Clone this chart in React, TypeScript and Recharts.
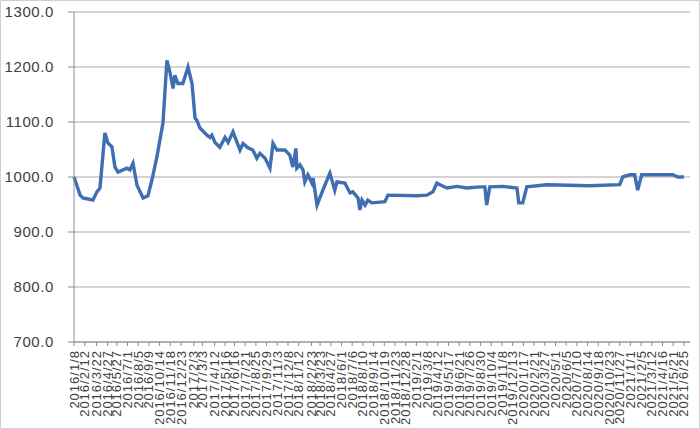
import { LineChart, Line, XAxis, YAxis, CartesianGrid } from "recharts";

const dates = [
  "2016/1/8", "2016/1/28", "2016/2/6", "2016/2/23", "2016/3/10", "2016/3/23", "2016/4/2", "2016/4/18",
  "2016/4/28", "2016/5/11", "2016/5/21", "2016/5/31", "2016/6/29", "2016/7/9", "2016/7/19", "2016/8/1",
  "2016/8/21", "2016/9/6", "2016/9/19", "2016/10/5", "2016/10/25", "2016/11/7", "2016/11/17", "2016/11/27",
  "2016/12/3", "2016/12/13", "2016/12/29", "2017/1/15", "2017/1/28", "2017/2/7", "2017/2/13", "2017/2/23",
  "2017/3/18", "2017/3/28", "2017/4/3", "2017/4/13", "2017/4/29", "2017/5/16", "2017/5/26", "2017/6/11",
  "2017/7/4", "2017/7/14", "2017/7/30", "2017/8/15", "2017/8/28", "2017/9/7", "2017/9/24", "2017/10/10",
  "2017/10/20", "2017/11/2", "2017/11/28", "2017/12/14", "2017/12/24", "2018/1/3", "2018/1/6", "2018/1/16",
  "2018/1/26", "2018/2/1", "2018/2/11", "2018/2/24", "2018/2/28", "2018/3/13", "2018/4/1", "2018/4/24",
  "2018/5/10", "2018/5/17", "2018/6/12", "2018/6/29", "2018/7/8", "2018/7/25", "2018/7/31", "2018/8/7",
  "2018/8/17", "2018/8/26", "2018/9/8", "2018/10/21", "2018/10/31", "2019/2/3", "2019/3/7", "2019/3/27",
  "2019/4/9", "2019/4/19", "2019/5/12", "2019/6/14", "2019/7/16", "2019/8/28", "2019/9/13", "2019/9/19",
  "2019/9/29", "2019/11/10", "2019/12/27", "2020/1/2", "2020/1/15", "2020/1/28", "2020/4/3", "2020/8/20",
  "2020/11/27", "2020/12/7", "2020/12/30", "2021/1/15", "2021/1/25", "2021/2/7", "2021/5/20", "2021/6/5",
  "2021/6/25",
];

const prices = [
  1000, 967, 962, 960, 958, 973, 980, 1080,
  1062, 1055, 1018, 1009, 1016, 1013, 1025, 985,
  962, 966, 995, 1036, 1098, 1212, 1190, 1161,
  1185, 1170, 1170, 1200, 1170, 1107, 1103, 1089,
  1076, 1072, 1076, 1063, 1054, 1072, 1063, 1082,
  1049, 1061, 1053, 1049, 1034, 1043, 1034, 1016,
  1061, 1049, 1049, 1040, 1018, 1052, 1016, 1022,
  1013, 991, 1004, 989, 998, 949, 976, 1007,
  976, 991, 989, 971, 973, 962, 940, 958,
  949, 958, 953, 955, 967, 966, 967, 973,
  989, 986, 980, 983, 980, 982, 982, 949,
  982, 983, 980, 953, 953, 982, 986, 984,
  986, 1000, 1004, 1004, 976, 1004, 1004, 1000,
  1000,
];

const tickLabels = [
  "2016/1/8", "2016/2/12", "2016/3/22", "2016/4/27", "2016/5/27", "2016/7/1", "2016/8/5", "2016/9/9",
  "2016/10/14", "2016/11/18", "2016/12/23", "2017/2/3", "2017/3/3", "2017/4/12", "2017/5/16", "2017/6/16",
  "2017/7/21", "2017/8/25", "2017/9/29", "2017/11/3", "2017/12/8", "2018/1/12", "2018/2/23", "2018/3/23",
  "2018/4/27", "2018/6/1", "2018/7/6", "2018/8/10", "2018/9/14", "2018/10/19", "2018/11/23", "2018/12/28",
  "2019/2/1", "2019/3/8", "2019/4/12", "2019/5/17", "2019/6/21", "2019/7/26", "2019/8/30", "2019/10/4",
  "2019/11/8", "2019/12/13", "2020/1/17", "2020/2/21", "2020/3/27", "2020/5/1", "2020/6/5", "2020/7/10",
  "2020/8/14", "2020/9/18", "2020/10/23", "2020/11/27", "2021/1/1", "2021/2/5", "2021/3/12", "2021/4/16",
  "2021/5/21", "2021/6/25",
];

const yTicks = [700, 800, 900, 1000, 1100, 1200, 1300];

const toTime = (s: string) => {
  const [y, m, d] = s.split("/").map(Number);
  return Date.UTC(y, m - 1, d);
};

const fmtDate = (t: number) => {
  const d = new Date(t);
  return `${d.getUTCFullYear()}/${d.getUTCMonth() + 1}/${d.getUTCDate()}`;
};

const data = dates.map((d, i) => ({ t: toTime(d), price: prices[i] }));
const xTicks = tickLabels.map(toTime);

const font = "'Liberation Sans', Arial, sans-serif";

const DateTick = (props: any) => {
  const { x, y, payload } = props;
  return (
    <text
      transform={`translate(${x},${y + 2}) rotate(-90)`}
      textAnchor="end"
      dy="0.35em"
      fontSize={13}
      fill="#404040"
      fontFamily={font}
      letterSpacing={1}
    >
      {fmtDate(payload.value)}
    </text>
  );
};

export default function App() {
  return (
    <div
      style={{
        position: "absolute",
        left: 0,
        top: 0,
        width: 698,
        height: 427,
        border: "1px solid #cfcfcf",
        background: "#fff",
      }}
    >
      <LineChart width={698} height={427} data={data} margin={{ top: 11, right: 9, bottom: 0, left: 0 }}>
        <CartesianGrid vertical={false} stroke="#a8a8a8" />
        <XAxis
          dataKey="t"
          type="number"
          scale="time"
          domain={[toTime("2016/1/8"), toTime("2021/7/15")]}
          ticks={xTicks}
          tick={<DateTick />}
          interval={0}
          height={86}
          stroke="#8c8c8c"
          tickSize={4}
        />
        <YAxis
          domain={[700, 1300]}
          ticks={yTicks}
          tickFormatter={(v: number) => v.toFixed(1)}
          width={73}
          stroke="#8c8c8c"
          tickSize={6}
          tickMargin={14}
          tick={{ fontSize: 15, fill: "#404040", fontFamily: font, letterSpacing: 0.6 }}
        />
        <Line
          type="linear"
          dataKey="price"
          stroke="#3f6fb2"
          strokeWidth={3.4}
          dot={false}
          isAnimationActive={false}
        />
      </LineChart>
    </div>
  );
}
